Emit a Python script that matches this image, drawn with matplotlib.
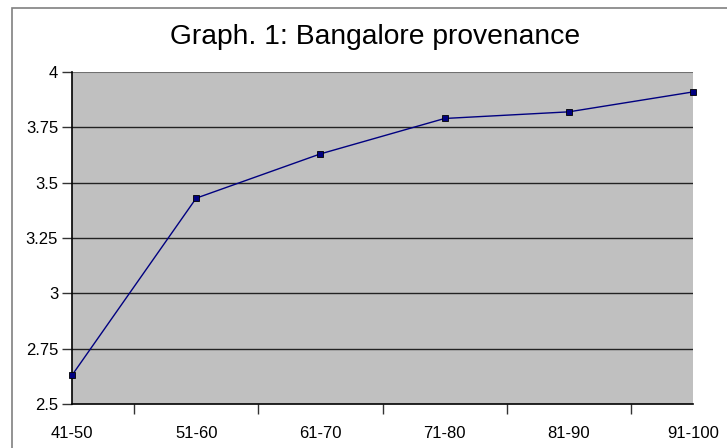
import matplotlib
matplotlib.use("Agg")
import matplotlib.pyplot as plt
from matplotlib.patches import Rectangle
from matplotlib import font_manager

names = {f.name for f in font_manager.fontManager.ttflist}
narrow = "Liberation Sans Narrow" if "Liberation Sans Narrow" in names else "Liberation Sans"

categories = ["41-50", "51-60", "61-70", "71-80", "81-90", "91-100"]
values = [2.63, 3.43, 3.63, 3.79, 3.82, 3.91]
yticks = [2.5, 2.75, 3, 3.25, 3.5, 3.75, 4]
ytick_labels = ["2.5", "2.75", "3", "3.25", "3.5", "3.75", "4"]
title = "Graph. 1: Bangalore provenance"

W, H = 727, 448
fig = plt.figure(figsize=(W / 100, H / 100), dpi=100)
fig.patch.set_facecolor("white")

# chart border (partially visible)
fig.patches.append(Rectangle((12 / W, -0.1), 1.2, (H - 8) / H + 0.1, transform=fig.transFigure,
                             fill=False, edgecolor="#808080", linewidth=1.2))

ax = fig.add_axes([72 / W, (H - 404) / H, (693 - 72) / W, (404 - 72) / H])
ax.set_facecolor("#C0C0C0")
x = list(range(len(categories)))
ax.set_xlim(0, len(categories) - 1)
ax.set_ylim(2.5, 4)

for yv in yticks[1:-1]:
    ax.axhline(yv, color="#222222", linewidth=1.0, zorder=1)
ax.axhline(4, color="#707070", linewidth=1.5, zorder=1)

ax.plot(x, values, color="#000080", linewidth=1.0, marker="s", markersize=4.8,
        markerfacecolor="#000080", markeredgecolor="#000000", markeredgewidth=0.6,
        zorder=3, clip_on=False)

ax.set_yticks(yticks)
ax.set_yticklabels(ytick_labels, fontfamily=narrow, fontsize=12)
ax.set_xticks(x)
ax.set_xticklabels(categories, fontfamily=narrow, fontsize=12)
ax.tick_params(axis="x", length=0, pad=16)
ax.set_xticks([i + 0.5 for i in range(len(categories) - 1)], minor=True)
ax.tick_params(axis="x", which="minor", length=7, width=1, color="#333333", direction="out")
ax.tick_params(axis="y", length=7, width=1, color="#333333", direction="out", pad=3)

for s in ["top", "right"]:
    ax.spines[s].set_visible(False)
ax.spines["left"].set_color("black")
ax.spines["bottom"].set_color("black")
ax.spines["left"].set_linewidth(1.2)
ax.spines["bottom"].set_linewidth(1.2)

fig.text(375 / W, 1 - 37 / H, title, ha="center", va="center", fontfamily=narrow, fontsize=20.3)

fig.savefig("out.png", dpi=100)
